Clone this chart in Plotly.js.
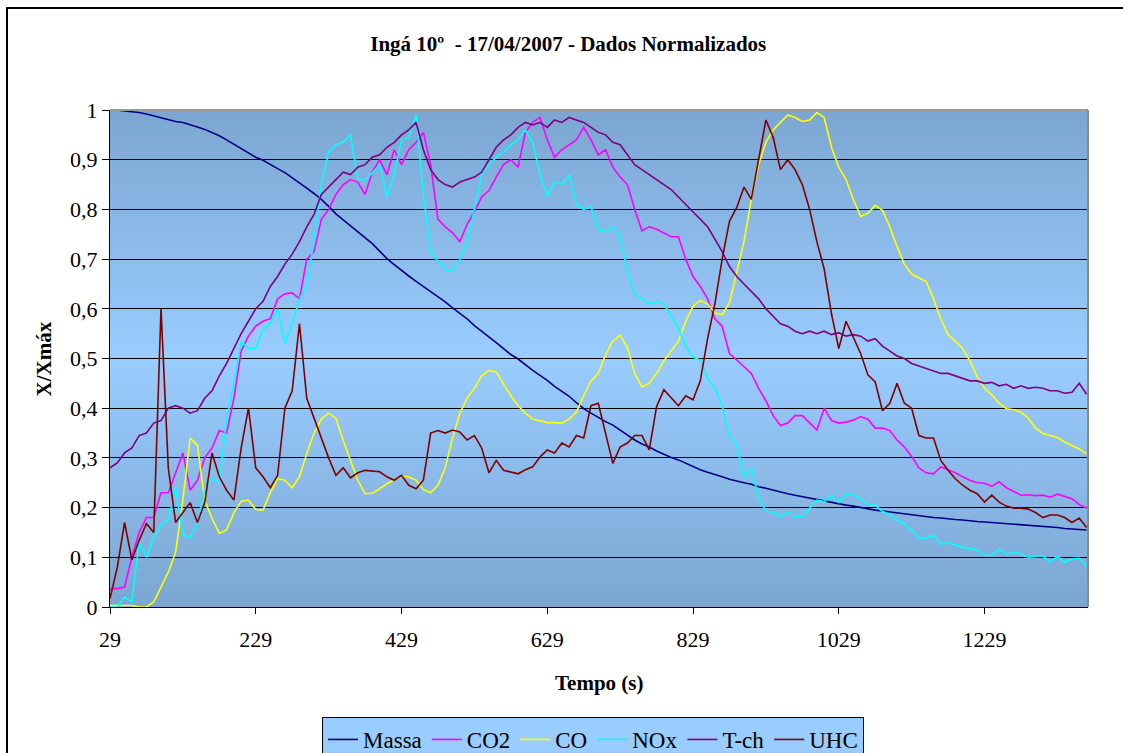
<!DOCTYPE html>
<html>
<head>
<meta charset="utf-8">
<script src="https://cdn.plot.ly/plotly-3.0.1.min.js"></script>
<style>
  html, body { margin: 0; padding: 0; background: #ffffff; overflow: hidden; }
  #chart { position: absolute; left: 0; top: 0; width: 1123px; height: 753px; }
  #frame { position: absolute; left: 6px; top: 7px; width: 1200px; height: 800px; border: 2px solid #000; pointer-events: none; }
</style>
</head>
<body>
<div id="chart"></div>
<div id="frame"></div>
<script>
// Tempo (s)
const tempo = [
  29, 39, 49, 59, 69, 79, 89, 99, 109, 119,
  129, 139, 149, 159, 169, 179, 189, 199, 209, 219,
  229, 239, 249, 259, 269, 279, 289, 299, 309, 319,
  329, 339, 349, 359, 369, 379, 389, 399, 409, 419,
  429, 439, 449, 459, 469, 479, 489, 499, 509, 519,
  529, 539, 549, 559, 569, 579, 589, 599, 609, 619,
  629, 639, 649, 659, 669, 679, 689, 699, 709, 719,
  729, 739, 749, 759, 769, 779, 789, 799, 809, 819,
  829, 839, 849, 859, 869, 879, 889, 899, 909, 919,
  929, 939, 949, 959, 969, 979, 989, 999, 1009, 1019,
  1029, 1039, 1049, 1059, 1069, 1079, 1089, 1099, 1109, 1119,
  1129, 1139, 1149, 1159, 1169, 1179, 1189, 1199, 1209, 1219,
  1229, 1239, 1249, 1259, 1269, 1279, 1289, 1299, 1309, 1319,
  1329, 1339, 1349, 1359, 1369
];

const massa = [
  1.0, 1.0, 0.998, 0.997, 0.995, 0.992, 0.988, 0.984, 0.980, 0.977,
  0.975, 0.971, 0.966, 0.961, 0.955, 0.948, 0.940, 0.931, 0.922, 0.913,
  0.905, 0.899, 0.890, 0.882, 0.874, 0.864, 0.853, 0.843, 0.832, 0.820,
  0.806, 0.791, 0.779, 0.767, 0.755, 0.744, 0.731, 0.716, 0.701, 0.689,
  0.677, 0.666, 0.655, 0.645, 0.634, 0.624, 0.614, 0.602, 0.591, 0.580,
  0.566, 0.555, 0.544, 0.532, 0.520, 0.508, 0.499, 0.487, 0.476, 0.466,
  0.456, 0.444, 0.434, 0.424, 0.411, 0.399, 0.390, 0.381, 0.373, 0.366,
  0.356, 0.345, 0.336, 0.328, 0.322, 0.314, 0.307, 0.301, 0.296, 0.289,
  0.282, 0.276, 0.271, 0.267, 0.262, 0.257, 0.253, 0.250, 0.247, 0.242,
  0.239, 0.235, 0.231, 0.228, 0.225, 0.222, 0.219, 0.216, 0.213, 0.211,
  0.208, 0.205, 0.203, 0.200, 0.197, 0.195, 0.193, 0.191, 0.189, 0.187,
  0.185, 0.183, 0.182, 0.180, 0.179, 0.177, 0.176, 0.175, 0.173, 0.172,
  0.171, 0.170, 0.169, 0.168, 0.167, 0.166, 0.165, 0.163, 0.162, 0.161,
  0.160, 0.158, 0.157, 0.156, 0.155
];

const co2 = [
  0.037, 0.037, 0.040, 0.10, 0.15, 0.18, 0.18, 0.23, 0.23, 0.27,
  0.31, 0.235, 0.255, 0.30, 0.32, 0.355, 0.35, 0.42, 0.515, 0.545,
  0.565, 0.575, 0.58, 0.62, 0.63, 0.632, 0.62, 0.70, 0.715, 0.78,
  0.80, 0.83, 0.85, 0.86, 0.855, 0.83, 0.875, 0.90, 0.87, 0.92,
  0.89, 0.92, 0.935, 0.955, 0.89, 0.78, 0.765, 0.753, 0.735, 0.77,
  0.795, 0.825, 0.838, 0.865, 0.89, 0.90, 0.885, 0.955, 0.975, 0.985,
  0.94, 0.905, 0.92, 0.93, 0.94, 0.965, 0.94, 0.91, 0.92, 0.885,
  0.865, 0.85, 0.80, 0.757, 0.765, 0.76, 0.753, 0.745, 0.745, 0.70,
  0.665, 0.645, 0.62, 0.58, 0.565, 0.51, 0.497, 0.483, 0.47, 0.44,
  0.415, 0.385, 0.365, 0.37, 0.385, 0.385, 0.37, 0.356, 0.40, 0.375,
  0.37, 0.372, 0.376, 0.383, 0.378, 0.36, 0.36, 0.355, 0.336, 0.322,
  0.303, 0.28, 0.27, 0.268, 0.282, 0.276, 0.27, 0.262, 0.255, 0.25,
  0.249, 0.243, 0.252, 0.24, 0.232, 0.225, 0.226, 0.224, 0.225, 0.221,
  0.227, 0.222, 0.218, 0.206, 0.199
];

const co = [
  0.003, 0.003, 0.002, 0.003, 0.0, 0.0, 0.01, 0.04, 0.07, 0.11,
  0.215, 0.34, 0.325, 0.215, 0.178, 0.148, 0.155, 0.19, 0.213, 0.215,
  0.196, 0.195, 0.23, 0.258, 0.255, 0.24, 0.262, 0.309, 0.35, 0.378,
  0.39, 0.38, 0.335, 0.295, 0.255, 0.228, 0.229, 0.238, 0.248, 0.256,
  0.263, 0.262, 0.255, 0.236, 0.23, 0.245, 0.28, 0.34, 0.39, 0.42,
  0.44, 0.465, 0.476, 0.473, 0.45, 0.425, 0.405, 0.39, 0.378, 0.374,
  0.371, 0.371, 0.37, 0.378, 0.392, 0.425, 0.455, 0.47, 0.508, 0.535,
  0.547, 0.522, 0.47, 0.443, 0.45, 0.47, 0.495, 0.515, 0.535, 0.575,
  0.605, 0.617, 0.61, 0.592, 0.588, 0.612, 0.674, 0.735, 0.82, 0.89,
  0.935, 0.96, 0.975, 0.99, 0.985, 0.977, 0.98, 0.995, 0.985, 0.925,
  0.885, 0.86, 0.82, 0.786, 0.792, 0.808, 0.798, 0.765, 0.725, 0.69,
  0.67, 0.662, 0.655, 0.62, 0.58, 0.548, 0.535, 0.52, 0.495, 0.463,
  0.44, 0.427, 0.41, 0.399, 0.397, 0.392, 0.38, 0.36, 0.349, 0.345,
  0.341, 0.332, 0.325, 0.318, 0.308
];

const nox = [
  0.0, 0.0, 0.02, 0.01, 0.13, 0.10, 0.14, 0.165, 0.175, 0.24,
  0.145, 0.14, 0.17, 0.235, 0.26, 0.25, 0.376, 0.45, 0.535, 0.52,
  0.52, 0.558, 0.571, 0.60, 0.53, 0.57, 0.62, 0.645, 0.739, 0.85,
  0.915, 0.93, 0.935, 0.95, 0.86, 0.86, 0.873, 0.89, 0.825, 0.87,
  0.94, 0.945, 0.99, 0.83, 0.715, 0.695, 0.68, 0.675, 0.699, 0.733,
  0.80, 0.87, 0.89, 0.905, 0.915, 0.93, 0.94, 0.96, 0.934, 0.87,
  0.826, 0.855, 0.85, 0.87, 0.81, 0.80, 0.806, 0.76, 0.755, 0.765,
  0.745, 0.675, 0.63, 0.62, 0.61, 0.615, 0.61, 0.585, 0.56, 0.524,
  0.503, 0.497, 0.46, 0.44, 0.405, 0.346, 0.326, 0.26, 0.28, 0.22,
  0.193, 0.19, 0.182, 0.191, 0.182, 0.183, 0.198, 0.215, 0.212, 0.225,
  0.21, 0.228, 0.225, 0.218, 0.205, 0.205, 0.192, 0.186, 0.175, 0.167,
  0.155, 0.138, 0.138, 0.145, 0.126, 0.13, 0.125, 0.12, 0.118, 0.115,
  0.104, 0.104, 0.116, 0.106, 0.11, 0.107, 0.10, 0.102, 0.103, 0.09,
  0.102, 0.09, 0.097, 0.098, 0.082
];

const tch = [
  0.28, 0.29, 0.31, 0.32, 0.345, 0.35, 0.37, 0.375, 0.40, 0.405,
  0.40, 0.39, 0.395, 0.42, 0.435, 0.465, 0.49, 0.52, 0.55, 0.575,
  0.60, 0.615, 0.645, 0.665, 0.69, 0.71, 0.735, 0.765, 0.79, 0.83,
  0.845, 0.86, 0.875, 0.87, 0.885, 0.89, 0.905, 0.91, 0.925, 0.935,
  0.95, 0.96, 0.975, 0.92, 0.88, 0.86, 0.85, 0.845, 0.855, 0.86,
  0.865, 0.875, 0.90, 0.925, 0.94, 0.95, 0.965, 0.975, 0.97, 0.975,
  0.965, 0.98, 0.975, 0.985, 0.98, 0.975, 0.965, 0.955, 0.95, 0.935,
  0.93, 0.91, 0.89, 0.88, 0.87, 0.86, 0.85, 0.84, 0.825, 0.81,
  0.795, 0.78, 0.765, 0.74, 0.715, 0.685, 0.665, 0.65, 0.635, 0.62,
  0.60, 0.585, 0.57, 0.565, 0.555, 0.55, 0.555, 0.55, 0.555, 0.548,
  0.552, 0.545, 0.548, 0.545, 0.535, 0.54, 0.525, 0.515, 0.505, 0.50,
  0.49, 0.485, 0.48, 0.475, 0.47, 0.47, 0.465, 0.46, 0.455, 0.455,
  0.45, 0.452, 0.445, 0.448, 0.44, 0.445, 0.44, 0.442, 0.44, 0.435,
  0.435, 0.43, 0.432, 0.45, 0.428
];

const uhc = [
  0.017, 0.08, 0.17, 0.095, 0.134, 0.168, 0.15, 0.60, 0.28, 0.17,
  0.19, 0.21, 0.17, 0.21, 0.31, 0.262, 0.235, 0.215, 0.32, 0.40,
  0.28, 0.262, 0.24, 0.265, 0.40, 0.435, 0.57, 0.42, 0.38, 0.34,
  0.30, 0.265, 0.28, 0.26, 0.27, 0.275, 0.274, 0.272, 0.262, 0.255,
  0.265, 0.245, 0.238, 0.255, 0.35, 0.355, 0.35, 0.356, 0.352, 0.336,
  0.345, 0.32, 0.27, 0.295, 0.275, 0.272, 0.268, 0.276, 0.282, 0.302,
  0.316, 0.31, 0.33, 0.322, 0.345, 0.34, 0.405, 0.41, 0.35, 0.289,
  0.322, 0.33, 0.345, 0.345, 0.316, 0.403, 0.437, 0.42, 0.405, 0.425,
  0.417, 0.455, 0.54, 0.61, 0.70, 0.776, 0.804, 0.845, 0.82, 0.90,
  0.98, 0.945, 0.88, 0.90, 0.88, 0.85, 0.80, 0.735, 0.68, 0.59,
  0.52, 0.575, 0.541, 0.51, 0.467, 0.453, 0.395, 0.41, 0.45, 0.41,
  0.40, 0.345, 0.34, 0.34, 0.295, 0.275, 0.258, 0.245, 0.235, 0.228,
  0.211, 0.225, 0.211, 0.203, 0.199, 0.199, 0.197, 0.19, 0.18, 0.185,
  0.185, 0.18, 0.17, 0.179, 0.16
];

const seriesNames = ["Massa", "CO2", "CO", "NOx", "T-ch", "UHC"];
const seriesColors = ["#000080", "#ff00ff", "#ffff00", "#00ffff", "#800080", "#800000"];
const seriesValues = [massa, co2, co, nox, tch, uhc];

const xTickVals = [29, 229, 429, 629, 829, 1029, 1229];
const xTickText = ["29", "229", "429", "629", "829", "1029", "1229"];

const traces = seriesNames.map((name, i) => ({
  type: "scatter",
  mode: "lines",
  name: name,
  x: tempo,
  y: seriesValues[i],
  line: { color: seriesColors[i], width: 1.6 },
  hoverinfo: "x+y+name"
}));

const svg = '<svg xmlns="http://www.w3.org/2000/svg" width="100" height="100" preserveAspectRatio="none">' +
  '<defs><linearGradient id="g" x1="0" y1="0" x2="0" y2="1">' +
  '<stop offset="0" stop-color="#7ca6d1"/>' +
  '<stop offset="0.5" stop-color="#99ccff"/>' +
  '<stop offset="1" stop-color="#7ca6d1"/>' +
  '</linearGradient></defs><rect width="100" height="100" fill="url(#g)"/></svg>';
const bgSrc = "data:image/svg+xml;charset=utf-8," + encodeURIComponent(svg);

const font = "Liberation Serif";

const layout = {
  width: 1123,
  height: 753,
  margin: { l: 110, r: 35, t: 110, b: 146, autoexpand: false },
  paper_bgcolor: "#ffffff",
  plot_bgcolor: "rgba(0,0,0,0)",
  separators: ",.",
  font: { family: font, color: "#000000", size: 20 },
  title: {
    text: "<b>Ingá 10º  - 17/04/2007 - Dados Normalizados</b>",
    font: { family: font, size: 21, color: "#000000" },
    xref: "container", x: 0.506, xanchor: "center",
    yref: "container", y: 0.942, yanchor: "middle"
  },
  xaxis: {
    range: [29, 1371],
    tickmode: "array",
    tickvals: xTickVals,
    ticktext: xTickText,
    ticks: "outside",
    ticklen: 6,
    tickcolor: "#000000",
    tickwidth: 1,
    showgrid: false,
    zeroline: false,
    showline: true,
    linecolor: "#000000",
    linewidth: 1,
    ticklabelstandoff: 7,
    tickfont: { family: font, size: 22, color: "#000000" }
  },
  yaxis: {
    range: [0, 1],
    tick0: 0,
    dtick: 0.1,
    ticks: "outside",
    ticklen: 7,
    tickcolor: "#000000",
    tickwidth: 1,
    showgrid: true,
    gridcolor: "#000000",
    gridwidth: 1,
    zeroline: false,
    showline: true,
    linecolor: "#000000",
    linewidth: 1,
    tickfont: { family: font, size: 22, color: "#000000" }
  },
  images: [{
    source: bgSrc,
    xref: "x domain", yref: "y domain",
    x: 0, y: 1, sizex: 1, sizey: 1,
    xanchor: "left", yanchor: "top",
    sizing: "stretch",
    layer: "below"
  }],
  shapes: [
    { type: "line", xref: "paper", yref: "paper", x0: 0, x1: 1, y0: 1, y1: 1,
      line: { color: "#9a9a9a", width: 2 }, layer: "above" },
    { type: "line", xref: "paper", yref: "paper", x0: 1, x1: 1, y0: 0, y1: 1,
      line: { color: "#8a8a8a", width: 2 }, layer: "above" }
  ],
  annotations: [
    { text: "<b>Tempo (s)</b>", xref: "paper", yref: "paper", x: 0.5, y: -0.153,
      xanchor: "center", yanchor: "middle", showarrow: false,
      font: { family: font, size: 21, color: "#000000" } },
    { text: "<b>X/Xmáx</b>", xref: "paper", yref: "paper", x: -0.0675, y: 0.5,
      xanchor: "center", yanchor: "middle", showarrow: false, textangle: -90,
      font: { family: font, size: 21, color: "#000000" } }
  ],
  showlegend: true,
  legend: {
    orientation: "h",
    x: 0.2168, xanchor: "left",
    y: -0.2213, yanchor: "top",
    bgcolor: "#99ccff",
    bordercolor: "#000000",
    borderwidth: 1,
    font: { family: font, size: 23, color: "#000000" },
    itemwidth: 30,
    tracegroupgap: 0
  }
};

Plotly.newPlot("chart", traces, layout, { displayModeBar: false, staticPlot: true });
</script>
</body>
</html>
